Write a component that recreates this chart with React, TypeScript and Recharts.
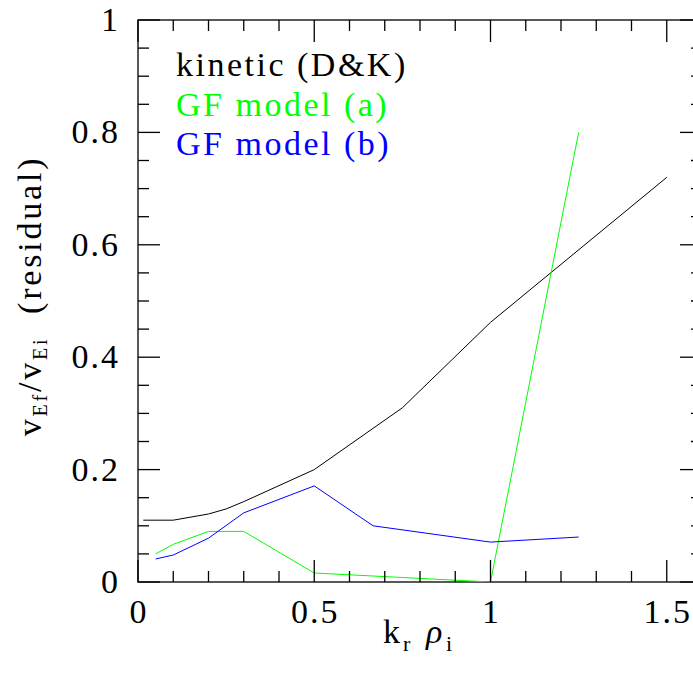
import React from 'react';
import { LineChart, Line, XAxis, YAxis, ReferenceArea } from 'recharts';

// ---- data ----
const KINETIC_X = [0.015, 0.1, 0.2, 0.25, 0.3, 0.5, 0.75, 1.0, 1.5];
const KINETIC_Y = [0.11, 0.11, 0.121, 0.13, 0.143, 0.2, 0.31, 0.462, 0.72];

const GF_A_X = [0.05, 0.1, 0.2, 0.3, 0.5, 0.75, 1.0, 1.25];
const GF_A_Y = [0.05, 0.067, 0.09, 0.09, 0.016, 0.008, 0.0, 0.8];

const GF_B_X = [0.05, 0.1, 0.2, 0.3, 0.5, 0.667, 1.0, 1.25];
const GF_B_Y = [0.041, 0.048, 0.078, 0.123, 0.171, 0.1, 0.071, 0.08];

const X_TICKS = [0, 0.1, 0.2, 0.3, 0.4, 0.5, 0.6, 0.7, 0.8, 0.9, 1.0, 1.1, 1.2, 1.3, 1.4, 1.5];
const X_MAJOR = [0, 0.5, 1, 1.5];
const X_LABELS = ['0', '0.5', '1', '1.5'];

const Y_TICKS = [0, 0.05, 0.1, 0.15, 0.2, 0.25, 0.3, 0.35, 0.4, 0.45, 0.5, 0.55, 0.6, 0.65, 0.7, 0.75, 0.8, 0.85, 0.9, 0.95, 1.0];
const Y_MAJOR = [0, 0.2, 0.4, 0.6, 0.8, 1];
const Y_LABELS = ['0', '0.2', '0.4', '0.6', '0.8', '1'];

const LEGEND_LABELS = ['kinetic (D&K)', 'GF model (a)', 'GF model (b)'];
const COLORS = ['#000000', '#00ff00', '#0000ff'];

const X_DOMAIN: [number, number] = [0, 1.6];
const Y_DOMAIN: [number, number] = [0, 1];

const toRows = (xs: number[], ys: number[]) => xs.map((x, i) => ({ x, y: ys[i] }));
const kinetic = toRows(KINETIC_X, KINETIC_Y);
const gfA = toRows(GF_A_X, GF_A_Y);
const gfB = toRows(GF_B_X, GF_B_Y);

// ---- layout ----
const CHART_W = 710;
const CHART_H = 677;
const M_TOP = 20;
const M_LEFT = 138;
const M_RIGHT = 8;
const M_BOTTOM = 95;
const PLOT_TOP = M_TOP;
const PLOT_BOTTOM = CHART_H - M_BOTTOM;
const PLOT_LEFT = M_LEFT;
const PLOT_RIGHT = CHART_W - M_RIGHT;
const MAJOR_LEN = 22;
const MINOR_LEN = 11;
const SERIF = 'Liberation Serif';

const majorIndex = (v: number, majors: number[]) => majors.findIndex((m) => Math.abs(m - v) < 1e-6);

const XTick = (props: any) => {
  const { x, payload } = props;
  const idx = majorIndex(payload.value, X_MAJOR);
  const len = idx >= 0 ? MAJOR_LEN : MINOR_LEN;
  return (
    <g>
      <line x1={x} x2={x} y1={PLOT_BOTTOM} y2={PLOT_BOTTOM - len} stroke="#000" strokeWidth={1.3} />
      <line x1={x} x2={x} y1={PLOT_TOP} y2={PLOT_TOP + len} stroke="#000" strokeWidth={1.3} />
      {idx >= 0 && (
        <text x={x + 1} y={PLOT_BOTTOM + 41} textAnchor="middle" fontFamily={SERIF} fontSize={34} letterSpacing={2} fill="#000">
          {X_LABELS[idx]}
        </text>
      )}
    </g>
  );
};

const YTick = (props: any) => {
  const { y, payload } = props;
  const idx = majorIndex(payload.value, Y_MAJOR);
  const len = idx >= 0 ? MAJOR_LEN : MINOR_LEN;
  return (
    <g>
      <line x1={PLOT_LEFT} x2={PLOT_LEFT + len} y1={y} y2={y} stroke="#000" strokeWidth={1.3} />
      <line x1={PLOT_RIGHT} x2={PLOT_RIGHT - len} y1={y} y2={y} stroke="#000" strokeWidth={1.3} />
      {idx >= 0 && (
        <text x={120} y={y + 11} textAnchor="end" fontSize={34} letterSpacing={2} fill="#000" fontFamily={SERIF}>
          {Y_LABELS[idx]}
        </text>
      )}
    </g>
  );
};

export default function App() {
  return (
    <div style={{ position: 'absolute', left: 0, top: 0, width: 693, height: 677, overflow: 'hidden', background: '#fff', fontFamily: SERIF }}>
      <LineChart width={CHART_W} height={CHART_H} margin={{ top: M_TOP, right: M_RIGHT, bottom: 0, left: 0 }}>
        <XAxis
          dataKey="x"
          type="number"
          domain={X_DOMAIN}
          ticks={X_TICKS}
          interval={0}
          height={M_BOTTOM}
          tick={<XTick />}
          tickLine={false}
          axisLine={false}
          tickSize={0}
          allowDataOverflow
        />
        <YAxis
          type="number"
          domain={Y_DOMAIN}
          ticks={Y_TICKS}
          interval={0}
          width={M_LEFT}
          tick={<YTick />}
          tickLine={false}
          axisLine={false}
          tickSize={0}
          allowDataOverflow
        />
        <ReferenceArea
          x1={X_DOMAIN[0]}
          x2={X_DOMAIN[1]}
          y1={Y_DOMAIN[0]}
          y2={Y_DOMAIN[1]}
          fill="none"
          fillOpacity={0}
          stroke="#222"
          strokeWidth={1.5}
          ifOverflow="visible"
        />
        <Line data={kinetic} dataKey="y" type="linear" stroke={COLORS[0]} strokeWidth={1} dot={false} isAnimationActive={false} />
        <Line data={gfA} dataKey="y" type="linear" stroke={COLORS[1]} strokeWidth={1} dot={false} isAnimationActive={false} />
        <Line data={gfB} dataKey="y" type="linear" stroke={COLORS[2]} strokeWidth={1} dot={false} isAnimationActive={false} />
      </LineChart>
      <svg width={693} height={677} style={{ position: 'absolute', left: 0, top: 0, pointerEvents: 'none' }}>
        {LEGEND_LABELS.map((t, i) => (
          <text key={t} x={176} y={76 + i * 39.5} fontFamily={SERIF} fontSize={34} letterSpacing={2.5} fill={COLORS[i]}>
            {t}
          </text>
        ))}
        <g fill="#000">
          <text x={383} y={643} fontSize={34} fontFamily={SERIF}>k</text>
          <text x={403} y={651} fontSize={22} fontFamily={SERIF}>r</text>
          <text x={426} y={643} fontSize={34} fontFamily={SERIF} fontStyle="italic">ρ</text>
          <text x={446} y={651} fontSize={22} fontFamily={SERIF}>i</text>
        </g>
        <text
          transform="translate(41,296) rotate(-90)"
          textAnchor="middle"
          fontSize={34}
          fontFamily={SERIF}
          letterSpacing={2.8}
          fill="#000"
          style={{ whiteSpace: 'pre' }}
        >
          v<tspan fontSize={20} dy={6}>Ef</tspan>
          <tspan dy={-6}>/v</tspan>
          <tspan fontSize={20} dy={6}>Ei</tspan>
          <tspan dy={-6}>{'  (residual)'}</tspan>
        </text>
      </svg>
    </div>
  );
}
